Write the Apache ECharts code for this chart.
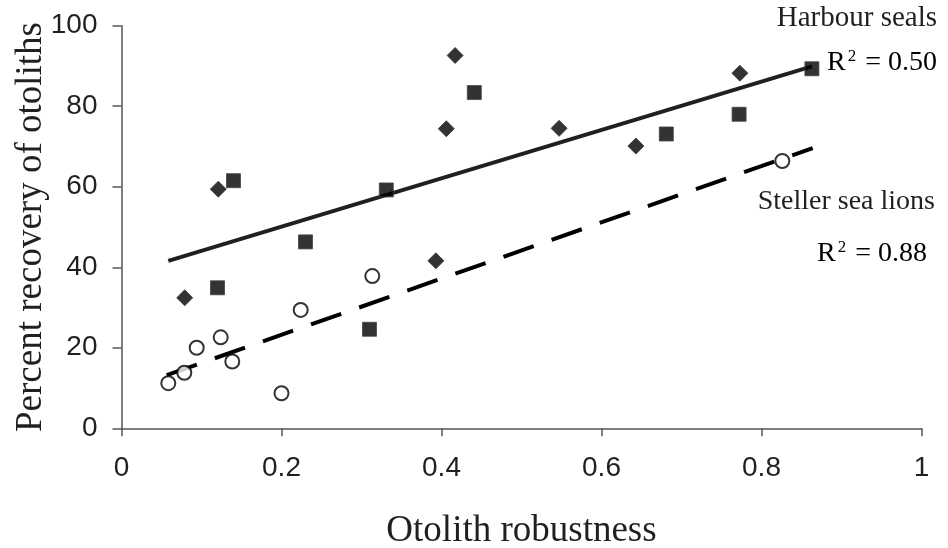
<!DOCTYPE html>
<html>
<head>
<meta charset="utf-8">
<script src="https://cdn.jsdelivr.net/npm/echarts@6/dist/echarts.min.js"></script>
<style>html,body{margin:0;padding:0;background:#fff}#c{width:948px;height:548px}</style>
</head>
<body>
<div id="c"></div>
<script>
// Data
var xTicks = [0, 0.2, 0.4, 0.6, 0.8, 1];
var yTicks = [0, 20, 40, 60, 80, 100];
var harbourSquares = [[0.120,34.9],[0.140,61.5],[0.230,46.3],[0.310,24.6],[0.331,59.2],[0.441,83.4],[0.681,73.1],[0.772,78.0],[0.863,89.3]];
var harbourDiamonds = [[0.079,32.4],[0.121,59.4],[0.393,41.6],[0.406,74.4],[0.417,92.6],[0.547,74.5],[0.643,70.1],[0.773,88.2]];
var sealionCircles = [[0.0585,11.2],[0.0785,13.8],[0.094,20.0],[0.124,22.6],[0.1385,16.6],[0.200,8.7],[0.224,29.4],[0.3135,37.8],[0.826,66.4]];
var harbourTrend = [[0.0585,41.6],[0.863,89.9]];
var sealionTrend = [[0.0565,13.2],[0.864,69.6]];
var harbourLabel = ['Harbour seals', '0.50'];
var sealionLabel = ['Steller sea lions', '0.88'];

var ink = '#231f20';
var serif = '"Liberation Serif","Times New Roman",serif';
var sans = '"Liberation Sans",Arial,sans-serif';
var chart = echarts.init(document.getElementById('c'), null, {renderer:'canvas'});

function r2(v){ return '{t|R}{s|2}{t| = ' + v + '}'; }
var richStyle = {
  t:{fontFamily:serif,fontSize:28,color:ink},
  s:{fontFamily:serif,fontSize:17,color:ink,verticalAlign:'top',padding:[0,2,12,2]}
};

chart.setOption({
  animation:false,
  backgroundColor:'#fff',
  grid:{left:121.5,right:26.5,top:25.7,bottom:119.7,containLabel:false,outerBoundsMode:'none'},
  xAxis:{
    type:'value',min:xTicks[0],max:xTicks[xTicks.length-1],interval:0.2,
    name:'Otolith robustness',nameLocation:'middle',nameGap:84,nameMoveOverlap:false,
    nameTextStyle:{fontFamily:serif,fontSize:37,color:ink},
    axisLine:{show:true,onZero:false,lineStyle:{color:'#555',width:1.5}},
    axisTick:{show:true,inside:false,length:8,lineStyle:{color:'#555',width:1.5}},
    axisLabel:{margin:26,fontFamily:sans,fontSize:28,color:ink},
    splitLine:{show:false}
  },
  yAxis:{
    type:'value',min:yTicks[0],max:yTicks[yTicks.length-1],interval:20,
    name:'Percent recovery of otoliths',nameLocation:'middle',nameGap:72,nameMoveOverlap:false,
    nameTextStyle:{fontFamily:serif,fontSize:37,color:ink},
    axisLine:{show:true,onZero:false,lineStyle:{color:'#555',width:1.5}},
    axisTick:{show:true,inside:false,length:9,lineStyle:{color:'#555',width:1.5}},
    axisLabel:{margin:24,fontFamily:sans,fontSize:28,color:ink},
    splitLine:{show:false}
  },
  series:[
    {type:'line',data:harbourTrend,symbol:'none',z:1,
     lineStyle:{color:ink,width:4,type:'solid'}},
    {type:'line',data:sealionTrend,symbol:'none',z:1,
     lineStyle:{color:'#000',width:4,type:[32,19]}},
    {type:'scatter',data:harbourSquares,symbol:'rect',symbolSize:14,z:3,
     itemStyle:{color:'#000',borderColor:'#444',borderWidth:1}},
    {type:'scatter',data:harbourDiamonds,symbol:'diamond',symbolSize:[16,16],z:3,
     itemStyle:{color:'#000',borderColor:'#333',borderWidth:1}},
    {type:'scatter',data:sealionCircles,symbol:'circle',symbolSize:14,z:3,
     itemStyle:{color:'#fff',borderColor:'#000',borderWidth:2}}
  ],
  graphic:[
    {type:'text',right:11,top:4,style:{text:harbourLabel[0],fontFamily:serif,fontSize:29,fill:ink}},
    {type:'text',right:11,top:48,style:{text:r2(harbourLabel[1]),rich:richStyle}},
    {type:'text',right:13,top:188,style:{text:sealionLabel[0],fontFamily:serif,fontSize:28,fill:ink}},
    {type:'text',right:21,top:239,style:{text:r2(sealionLabel[1]),rich:richStyle}}
  ]
});
</script>
</body>
</html>
